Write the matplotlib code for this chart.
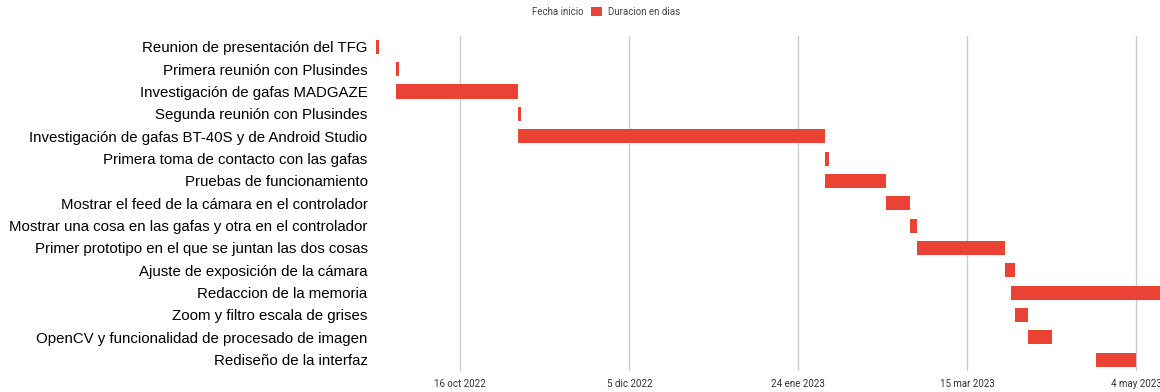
import matplotlib.pyplot as plt
import matplotlib.dates as mdates
from matplotlib.patches import Patch
from datetime import date, timedelta

# Tasks of the project, top to bottom
tasks = [
    'Reunion de presentación del TFG',
    'Primera reunión con Plusindes',
    'Investigación de gafas MADGAZE',
    'Segunda reunión con Plusindes',
    'Investigación de gafas BT-40S y de Android Studio',
    'Primera toma de contacto con las gafas',
    'Pruebas de funcionamiento',
    'Mostrar el feed de la cámara en el controlador',
    'Mostrar una cosa en las gafas y otra en el controlador',
    'Primer prototipo en el que se juntan las dos cosas',
    'Ajuste de exposición de la cámara',
    'Redaccion de la memoria',
    'Zoom y filtro escala de grises',
    'OpenCV y funcionalidad de procesado de imagen',
    'Rediseño de la interfaz',
]
# Fecha inicio
start_dates = [
    '2022-09-21', '2022-09-27', '2022-09-27', '2022-11-02', '2022-11-02',
    '2023-02-01', '2023-02-01', '2023-02-19', '2023-02-26', '2023-02-28',
    '2023-03-26', '2023-03-28', '2023-03-29', '2023-04-02', '2023-04-22',
]
# Duracion en dias
durations = [1, 1, 36, 1, 91, 1, 18, 7, 2, 26, 3, 60, 4, 7, 12]

tick_dates = ['2022-10-16', '2022-12-05', '2023-01-24', '2023-03-15', '2023-05-04']
tick_labels = ['16 oct 2022', '5 dic 2022', '24 ene 2023', '15 mar 2023', '4 may 2023']

red = '#EA4335'

fig = plt.figure(figsize=(11.6, 3.92), dpi=100)
ax = fig.add_axes([0.324, 0.054, 0.676, 0.855])

starts = [mdates.date2num(date.fromisoformat(d)) for d in start_dates]
ax.barh(range(len(tasks)), durations, left=starts, height=0.63, color=red, zorder=3)

ax.set_yticks(range(len(tasks)))
ax.set_yticklabels(tasks, fontsize=10.8, family='Liberation Sans', color='#000000')
ax.set_ylim(len(tasks) - 0.5, -0.5)

ax.set_xticks([mdates.date2num(date.fromisoformat(d)) for d in tick_dates])
ax.set_xticklabels(tick_labels, fontsize=7, family='Roboto', color='#333333')
x0 = date(2022, 10, 16) - timedelta(days=25)
x1 = date(2022, 10, 16) + timedelta(days=207)
ax.set_xlim(mdates.date2num(x0), mdates.date2num(x1))

ax.tick_params(length=0, pad=6)
ax.grid(axis='x', color='#cccccc', linewidth=1, zorder=0)
for s in ax.spines.values():
    s.set_visible(False)

handles = [Patch(facecolor='none', edgecolor='none'), Patch(facecolor=red)]
fig.legend(handles, ['Fecha inicio', 'Duracion en dias'], loc='upper center',
           bbox_to_anchor=(0.515, 1.005), ncol=2, frameon=False,
           prop={'family': 'Roboto', 'size': 7}, labelcolor='#444444',
           handlelength=1.1, handleheight=1.1, columnspacing=0.8, handletextpad=0.6)

fig.savefig('out.png', dpi=100)
